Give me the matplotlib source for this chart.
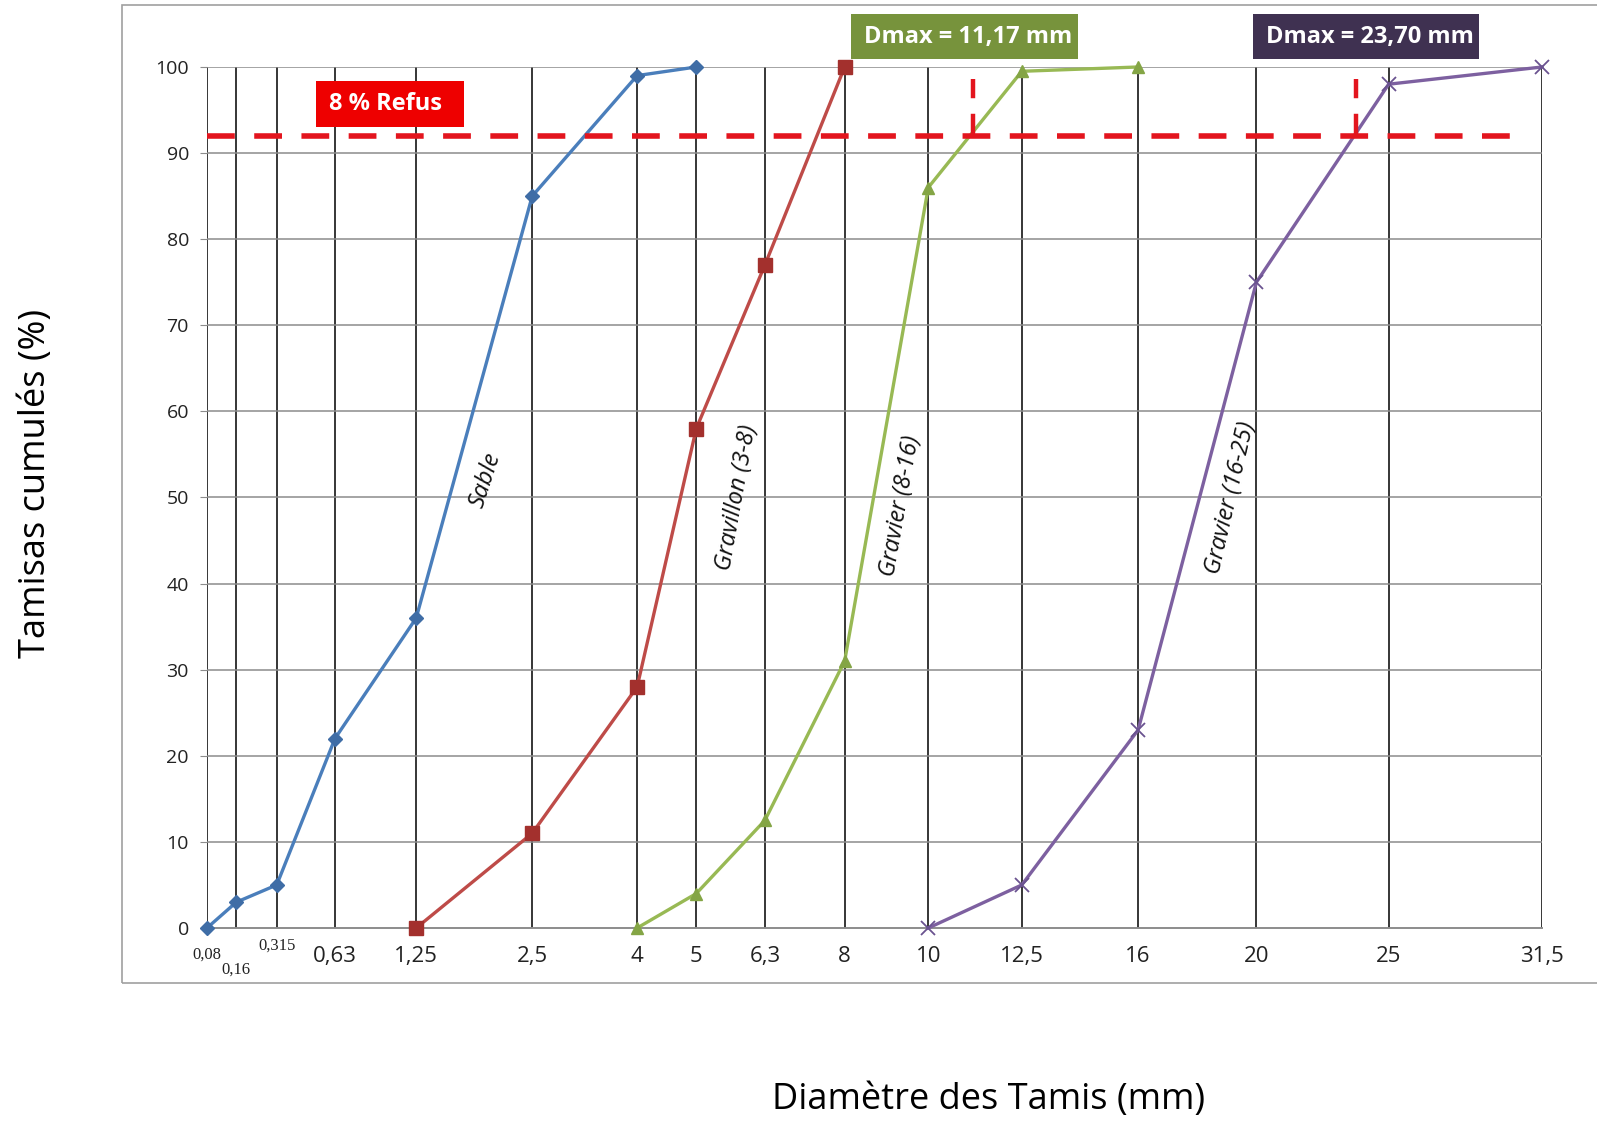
import numpy as np
import matplotlib
matplotlib.use('Agg')
import matplotlib.pyplot as plt
from matplotlib.patches import Rectangle

# tamis (mm) et tamisats cumulés (%)
tamis = [0.08, 0.16, 0.315, 0.63, 1.25, 2.5, 4, 5, 6.3, 8, 10, 12.5, 16, 20, 25, 31.5]
tamis_labels = ['', '', '', '0,63', '1,25', '2,5', '4', '5', '6,3', '8', '10', '12,5', '16', '20', '25', '31,5']
petits_labels = ['0,08', '0,16', '0,315']

sable_x = [0.08, 0.16, 0.315, 0.63, 1.25, 2.5, 4, 5]
sable_y = [0, 3, 5, 22, 36, 85, 99, 100]
gravillon_x = [1.25, 2.5, 4, 5, 6.3, 8]
gravillon_y = [0, 11, 28, 58, 77, 100]
gravier1_x = [4, 5, 6.3, 8, 10, 12.5, 16]
gravier1_y = [0, 4, 12.5, 31, 86, 99.5, 100]
gravier2_x = [10, 12.5, 16, 20, 25, 31.5]
gravier2_y = [0, 5, 23, 75, 98, 100]

refus = 92
dmax = [11.17, 23.70]

fig = plt.figure(figsize=(15.97, 11.22), dpi=100)
ax = fig.add_axes([0.1296, 0.1729, 0.836, 0.7674])

# cadre extérieur
fig.patches.append(Rectangle((0.0764, 0.124), 0.93, 0.8715, transform=fig.transFigure,
                             fill=False, edgecolor='#a0a0a0', linewidth=1.2))

ax.set_xscale('function', functions=(np.sqrt, np.square))
ax.set_xlim(0.08, 31.5)
ax.set_ylim(0, 100)

for x in tamis:
    ax.axvline(x, color='black', linewidth=1.1, zorder=1)
for y in range(10, 101, 10):
    ax.axhline(y, color='#8c8c8c', linewidth=1.1, zorder=1)

for s in ['top', 'right', 'left']:
    ax.spines[s].set_visible(False)
ax.spines['bottom'].set_color('#8c8c8c')
ax.spines['bottom'].set_linewidth(1.4)

ax.plot(sable_x, sable_y, color='#4A7EBB', marker='D', markersize=7,
        markerfacecolor='#3F6DA6', markeredgecolor='#3F6DA6', linewidth=2.4, zorder=3, clip_on=False)
ax.plot(gravillon_x, gravillon_y, color='#BE4B48', marker='s', markersize=10,
        markerfacecolor='#A3302D', markeredgecolor='#A3302D', linewidth=2.4, zorder=3, clip_on=False)
ax.plot(gravier1_x, gravier1_y, color='#98B954', marker='^', markersize=9,
        markerfacecolor='#84A545', markeredgecolor='#84A545', linewidth=2.4, zorder=3, clip_on=False)
ax.plot(gravier2_x, gravier2_y, color='#7D60A0', marker='x', markersize=10,
        markeredgecolor='#6A5290', markeredgewidth=1.3, linewidth=2.4, zorder=3, clip_on=False)

# ligne de refus et Dmax
ax.plot([0.08, 30.8], [refus, refus], color='#E3151E', linewidth=4,
        dashes=(5, 3.5), zorder=4)
for d in dmax:
    ax.plot([d, d], [refus, 98.6], color='#E3151E', linewidth=3.2,
            dashes=(5, 3.5), zorder=4)

ax.set_xticks(tamis)
ax.set_xticklabels(tamis_labels, fontsize=16, color='#222222', family='Open Sans')
ax.tick_params(axis='x', length=0, pad=13)
ax.set_yticks(range(0, 101, 10))
ax.set_yticklabels([str(v) for v in range(0, 101, 10)], fontsize=14, color='#222222', family='Open Sans')
ax.tick_params(axis='y', length=5, color='#8c8c8c', pad=8)
ax.minorticks_off()

xa = ax.get_xaxis_transform()
for x, lab, yy in zip(tamis[:3], petits_labels, [-0.031, -0.048, -0.021]):
    ax.text(x, yy, lab, transform=xa, ha='center', va='center', fontsize=12,
            family='Liberation Serif', color='#222222')

# étiquettes des courbes
for x, y, lab, rot in [(1.95, 52, 'Sable', 72), (5.75, 50, 'Gravillon (3-8)', 80),
                       (9.3, 49, 'Gravier (8-16)', 80), (19.1, 50, 'Gravier (16-25)', 77)]:
    ax.text(x, y, lab, rotation=rot, ha='center', va='center', fontsize=17,
            style='italic', family='Open Sans', color='#111111', zorder=5)

# boîtes d'annotation (coordonnées figure)
def boite(x0, y0, w, h, couleur, texte):
    r = Rectangle((x0, y0), w, h, transform=fig.transFigure, facecolor=couleur,
                  edgecolor='none', zorder=6)
    fig.patches.append(r)
    t = fig.text(x0 + 0.008, y0 + h / 2, texte, ha='left', va='center', color='white',
                 fontsize=17, fontweight='bold', family='Open Sans', zorder=7)
    t.set_clip_path(r)

boite(0.1979, 0.8864, 0.0927, 0.041, '#EE0000', '8 % Refus')
boite(0.5329, 0.9474, 0.1421, 0.0401, '#77933C', 'Dmax = 11,17 mm')
boite(0.7846, 0.9474, 0.1415, 0.0401, '#3F3151', 'Dmax = 23,70 mm')

fig.text(0.0225, 0.569, 'Tamisas cumulés (%)', rotation=90, ha='center', va='center',
         fontsize=26, family='Open Sans')
fig.text(0.619, 0.0196, 'Diamètre des Tamis (mm)', ha='center', va='center',
         fontsize=26, family='Open Sans')

fig.savefig('out.png', dpi=100)
